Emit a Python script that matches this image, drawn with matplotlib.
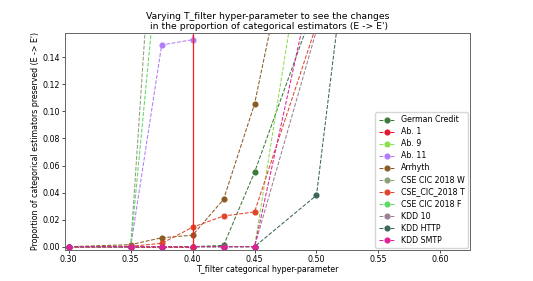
import matplotlib
matplotlib.use("Agg")
import matplotlib.pyplot as plt

# threshold values
x = [0.30, 0.35, 0.375, 0.40, 0.425, 0.45, 0.50, 0.55]
x_ab1 = [0.30, 0.35, 0.375, 0.40]

german = [0, 0, 0, 0, 0.001, 0.055, 0.182, 0.45]
ab1 = [0, 0, 0, 0]
ab9 = [0, 0, 0, 0, 0, 0, 0.287, 0.6]
ab11 = [0, 0, 0.149, 0.153, 0.5, 0.7, 0.85, 0.95]
arrhyth = [0, 0.0015, 0.0066, 0.0085, 0.035, 0.1055, 0.325, 0.6]
cse_w = [0, 0, 0.343, 0.6, 0.8, 0.9, 0.95, 1.0]
cse_t = [0, 0.0003, 0.0025, 0.0144, 0.0227, 0.0257, 0.164, 0.4]
cse_f = [0, 0, 0.24, 0.5, 0.7, 0.85, 0.95, 1.0]
kdd10 = [0, 0, 0, 0, 0, 0, 0.16, 0.4]
kdd_http = [0, 0, 0, 0, 0, 0, 0.038, 0.413]
kdd_smtp = [0, 0, 0, 0, 0, 0, 0.21, 0.5]

plt.rcParams['font.size'] = 5.7
fig = plt.figure(figsize=(5.33, 2.81), dpi=100)
ax = fig.add_axes([0.122, 0.11, 0.76, 0.773])

style = dict(linestyle='--', marker='o', markersize=3.4, linewidth=0.75)
ax.plot(x, german, color='#3b7a3b', label='German Credit', **style)
ax.plot(x_ab1, ab1, color='#e8132f', label='Ab. 1', **style)
ax.plot(x, ab9, color='#8be04e', label='Ab. 9', **style)
ax.plot(x, ab11, color='#b27cf7', label='Ab. 11', **style)
ax.plot(x, arrhyth, color='#8c5b24', label='Arrhyth', **style)
ax.plot(x, cse_w, color='#8aa07a', label='CSE CIC 2018 W', **style)
ax.plot(x, cse_t, color='#e0472a', label='CSE_CIC_2018 T', **style)
ax.plot(x, cse_f, color='#5fd966', label='CSE CIC 2018 F', **style)
ax.plot(x, kdd10, color='#9b8094', label='KDD 10', **style)
ax.plot(x, kdd_http, color='#3d665a', label='KDD HTTP', **style)
ax.plot(x, kdd_smtp, color='#e0209a', label='KDD SMTP', **style)
ax.axvline(0.40, color='#ff1a1a', linewidth=0.9)

ax.set_xlim(0.297, 0.624)
ax.set_ylim(-0.0025, 0.158)
ax.set_xticks([0.30, 0.35, 0.40, 0.45, 0.50, 0.55, 0.60])
ax.set_yticks([0.0, 0.02, 0.04, 0.06, 0.08, 0.10, 0.12, 0.14])
for s in ax.spines.values():
    s.set_color('#666666')
    s.set_linewidth(0.7)
ax.tick_params(length=2, width=0.5, pad=1.5)

ax.set_xlabel('T_filter categorical hyper-parameter', labelpad=1)
ax.set_ylabel("Proportion of categorical estimators preserved (E -> E')", labelpad=2)
ax.set_title("Varying T_filter hyper-parameter to see the changes\n in the proportion of categorical estimators (E -> E')",
             fontsize=6.7, pad=2.5)
ax.legend(loc='lower right', fontsize=5.7, labelspacing=0.38, borderaxespad=0.3)

fig.savefig('out.png', dpi=100)
